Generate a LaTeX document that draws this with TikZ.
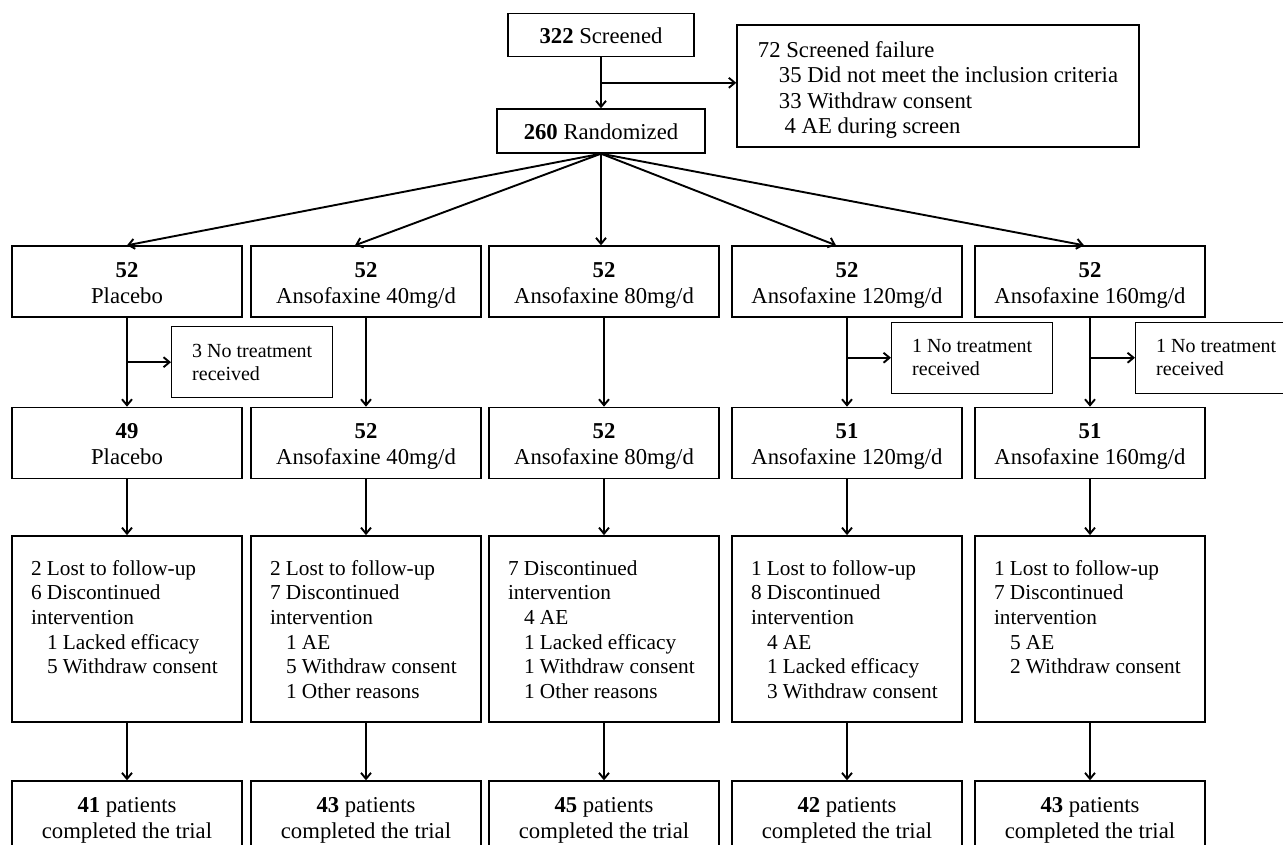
\documentclass[tikz,border=0pt]{standalone}
\usepackage{fontspec}
\setmainfont{Liberation Serif}
\usetikzlibrary{arrows.meta, positioning, calc}
\newcommand{\indentline}{\hspace*{16pt}}
\tikzset{
  box/.style={
    draw,
    line width=1.4pt,
    minimum width=230pt,
    minimum height=71pt,
    align=center,
    inner sep=0pt,
    font=\fontsize{22.7}{25.5}\selectfont
  },
  oneLine/.style={box, text height=16pt, text depth=0pt},
  twoLine/.style={box, text height=48pt, text depth=5pt},
  listBox/.style={box, align=left, text height=95pt, text depth=0pt},
  sideBox/.style={box, align=left, minimum width=161pt, font=\fontsize{20}{23}\selectfont},
  dropBox/.style={
    draw,
    line width=2.2pt,
    text width=192pt,
    align=flush left,
    inner xsep=19pt,
    inner ysep=23pt,
    text height=16pt,
    text depth=124pt,
    font=\fontsize{21.3}{24.6}\selectfont
  },
  arrow/.style={-{Straight Barb[length=6pt,width=10pt]}, line width=1.9pt}
}
\begin{document}
\begin{tikzpicture}[x=1pt, y=-1pt]
  \useasboundingbox (0,0) rectangle (1283,844);

  \node[oneLine, minimum width=208pt, minimum height=44pt] (randomized) at (601,131) {\textbf{260} Randomized};
  \node[oneLine, minimum width=186pt, minimum height=43pt, above=51pt of randomized] (screened) {\textbf{322} Screened};
  \node[listBox, minimum width=402pt, minimum height=122pt] (failure) at (938,86) {72 Screened failure\\\hspace*{21pt}35 Did not meet the inclusion criteria\\\hspace*{21pt}33 Withdraw consent\\\hspace*{26.7pt}4 AE during screen};

  \node[twoLine] (placeboAlloc) at (127,281.5) {\textbf{52}\\Placebo};
  \node[twoLine] (dose40Alloc) at (366,281.5) {\textbf{52}\\Ansofaxine 40mg/d};
  \node[twoLine] (dose80Alloc) at (604,281.5) {\textbf{52}\\Ansofaxine 80mg/d};
  \node[twoLine] (dose120Alloc) at (847,281.5) {\textbf{52}\\Ansofaxine 120mg/d};
  \node[twoLine] (dose160Alloc) at (1090,281.5) {\textbf{52}\\Ansofaxine 160mg/d};

  \node[twoLine, below=89pt of placeboAlloc] (placeboRecv) {\textbf{49}\\Placebo};
  \node[twoLine, below=89pt of dose40Alloc] (dose40Recv) {\textbf{52}\\Ansofaxine 40mg/d};
  \node[twoLine, below=89pt of dose80Alloc] (dose80Recv) {\textbf{52}\\Ansofaxine 80mg/d};
  \node[twoLine, below=89pt of dose120Alloc] (dose120Recv) {\textbf{51}\\Ansofaxine 120mg/d};
  \node[twoLine, below=89pt of dose160Alloc] (dose160Recv) {\textbf{51}\\Ansofaxine 160mg/d};

  \coordinate (screenBranch) at ($(screened.south)!0.5!(randomized.north)$);
  \coordinate (placeboBranch) at ($(placeboAlloc.south)!0.5!(placeboRecv.north)$);
  \coordinate (dose120Branch) at ($(dose120Alloc.south)!0.45!(dose120Recv.north)$);
  \coordinate (dose160Branch) at ($(dose160Alloc.south)!0.45!(dose160Recv.north)$);
  \node[sideBox, right=44pt of placeboBranch] (placeboNone) {3 No treatment\\received};
  \node[sideBox, right=44pt of dose120Branch] (dose120None) {1 No treatment\\received};
  \node[sideBox, right=45pt of dose160Branch] (dose160None) {1 No treatment\\received};

  \node[dropBox, below=56pt of placeboRecv] (placeboDrop) {2 Lost to follow-up\\6 Discontinued\\intervention\\\indentline 1 Lacked efficacy\\\indentline 5 Withdraw consent};
  \node[dropBox, below=56pt of dose40Recv] (dose40Drop) {2 Lost to follow-up\\7 Discontinued\\intervention\\\indentline 1 AE\\\indentline 5 Withdraw consent\\\indentline 1 Other reasons};
  \node[dropBox, below=56pt of dose80Recv] (dose80Drop) {7 Discontinued\\intervention\\\indentline 4 AE\\\indentline 1 Lacked efficacy\\\indentline 1 Withdraw consent\\\indentline 1 Other reasons};
  \node[dropBox, below=56pt of dose120Recv] (dose120Drop) {1 Lost to follow-up\\8 Discontinued\\intervention\\\indentline 4 AE\\\indentline 1 Lacked efficacy\\\indentline 3 Withdraw consent};
  \node[dropBox, below=56pt of dose160Recv] (dose160Drop) {1 Lost to follow-up\\7 Discontinued\\intervention\\\indentline 5 AE\\\indentline 2 Withdraw consent};

  \node[twoLine, below=57pt of placeboDrop] (placeboDone) {\textbf{41} patients\\completed the trial};
  \node[twoLine, below=57pt of dose40Drop] (dose40Done) {\textbf{43} patients\\completed the trial};
  \node[twoLine, below=57pt of dose80Drop] (dose80Done) {\textbf{45} patients\\completed the trial};
  \node[twoLine, below=57pt of dose120Drop] (dose120Done) {\textbf{42} patients\\completed the trial};
  \node[twoLine, below=57pt of dose160Drop] (dose160Done) {\textbf{43} patients\\completed the trial};

  \draw[arrow] (screened) -- (randomized);
  \draw[arrow] (screenBranch) -- (screenBranch -| failure.west);

  \draw[arrow] (randomized.south) -- (placeboAlloc.north);
  \draw[arrow] (randomized.south) -- ([xshift=-11pt]dose40Alloc.north);
  \draw[arrow] (randomized.south) -- (dose80Alloc.north -| randomized.south);
  \draw[arrow] (randomized.south) -- ([xshift=-11pt]dose120Alloc.north);
  \draw[arrow] (randomized.south) -- ([xshift=-6pt]dose160Alloc.north);

  \draw[arrow] (placeboAlloc) -- (placeboRecv);
  \draw[arrow] (dose40Alloc) -- (dose40Recv);
  \draw[arrow] (dose80Alloc) -- (dose80Recv);
  \draw[arrow] (dose120Alloc) -- (dose120Recv);
  \draw[arrow] (dose160Alloc) -- (dose160Recv);
  \draw[arrow] (placeboBranch) -- (placeboNone);
  \draw[arrow] (dose120Branch) -- (dose120None);
  \draw[arrow] (dose160Branch) -- (dose160None);

  \draw[arrow] (placeboRecv) -- (placeboDrop);
  \draw[arrow] (dose40Recv) -- (dose40Drop);
  \draw[arrow] (dose80Recv) -- (dose80Drop);
  \draw[arrow] (dose120Recv) -- (dose120Drop);
  \draw[arrow] (dose160Recv) -- (dose160Drop);

  \draw[arrow] (placeboDrop) -- (placeboDone);
  \draw[arrow] (dose40Drop) -- (dose40Done);
  \draw[arrow] (dose80Drop) -- (dose80Done);
  \draw[arrow] (dose120Drop) -- (dose120Done);
  \draw[arrow] (dose160Drop) -- (dose160Done);
\end{tikzpicture}
\end{document}
